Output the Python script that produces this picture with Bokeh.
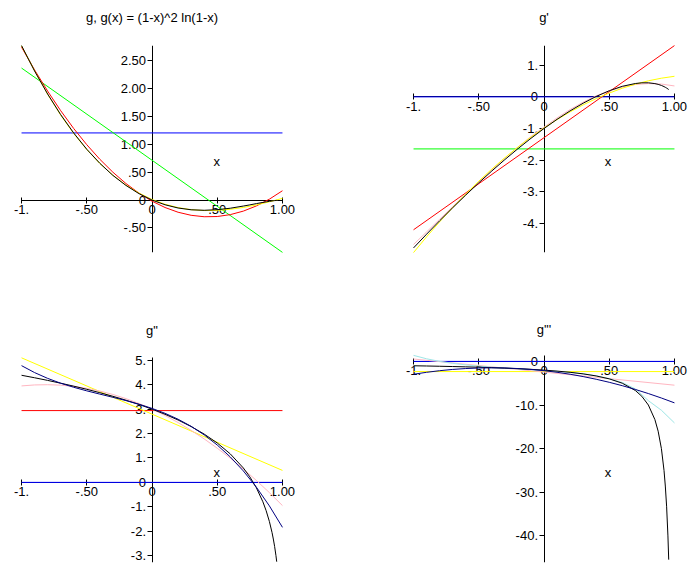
from bokeh.plotting import figure
from bokeh.models import LinearAxis, FixedTicker, Range1d
from bokeh.layouts import gridplot
from bokeh.embed import file_html
from bokeh.resources import INLINE
from bokeh.core.properties import value

FONT = "Liberation Sans"

# ---------------- shared x data ----------------
x_grid = [-1.0, -0.9, -0.8, -0.7, -0.6, -0.5, -0.4, -0.3, -0.2, -0.1, 0.0,
          0.1, 0.2, 0.3, 0.4, 0.5, 0.6, 0.7, 0.8, 0.9, 1.0]
x_black = [-1.0, -0.9, -0.8, -0.7, -0.6, -0.5, -0.4, -0.3, -0.2, -0.1, 0.0,
           0.1, 0.2, 0.3, 0.4, 0.5, 0.6, 0.7, 0.75, 0.8, 0.85, 0.875, 0.9,
           0.92, 0.93, 0.94, 0.95, 0.956]
x_ends = [-1.0, 1.0]

x_ticks = [-1.0, -0.5, 0.0, 0.5, 1.0]
x_tick_labels = ["-1.", "-.50", "0", ".50", "1.00"]

# ---------------- panel 1: g ----------------
g_title = "g, g(x) = (1-x)^2 ln(1-x)"
g_black = [2.773, 2.317, 1.904, 1.534, 1.203, 0.912, 0.660, 0.443, 0.263, 0.115,
           0.0, -0.085, -0.143, -0.175, -0.184, -0.173, -0.147, -0.108, -0.087,
           -0.064, -0.043, -0.033, -0.023, -0.016, -0.013, -0.010, -0.008, -0.006]
g_blue = [1.205, 1.205]
g_green = [2.37, -0.94]
g_red = [2.745, 2.336, 1.956, 1.605, 1.284, 0.994, 0.732, 0.500, 0.297, 0.124,
         -0.020, -0.134, -0.219, -0.274, -0.300, -0.296, -0.262, -0.199, -0.106,
         0.016, 0.167]
g_yellow = [2.77, 2.320, 1.899, 1.525, 1.194, 0.906, 0.657, 0.445, 0.268, 0.124,
            0.010, -0.076, -0.136, -0.173, -0.189, -0.186, -0.166, -0.133, -0.087,
            -0.032, 0.030]
g_yticks = [-0.5, 0.0, 0.5, 1.0, 1.5, 2.0, 2.5]
g_ylabels = ["-.50", "0", ".50", "1.00", "1.50", "2.00", "2.50"]

# ---------------- panel 2: g' ----------------
g1_title = "g'"
g1_black = [-4.773, -4.339, -3.916, -3.504, -3.104, -2.716, -2.342, -1.982, -1.638,
            -1.310, -1.0, -0.710, -0.443, -0.201, 0.013, 0.193, 0.333, 0.422, 0.443,
            0.444, 0.419, 0.395, 0.361, 0.324, 0.302, 0.278, 0.250, 0.231]
g1_blue = [0.0, 0.0]
g1_green = [-1.645, -1.645]
g1_red = [-4.20, 1.62]
g1_yellow = [-4.92, -4.423, -3.949, -3.498, -3.070, -2.665, -2.283, -1.924, -1.588,
             -1.275, -0.985, -0.718, -0.474, -0.253, -0.055, 0.120, 0.272, 0.401,
             0.507, 0.590, 0.650]
g1_pink = [-4.665, -4.268, -3.868, -3.469, -3.073, -2.684, -2.304, -1.937, -1.585,
           -1.252, -0.96, -0.665, -0.40, -0.168, 0.030, 0.190, 0.311, 0.389, 0.420,
           0.404, 0.345]
g1_yticks = [-4.0, -3.0, -2.0, -1.0, 0.0, 1.0]
g1_ylabels = ["-4.", "-3.", "-2.", "-1.", "0", "1."]

# ---------------- panel 3: g'' ----------------
g2_title = 'g"'
g2_black = [4.386, 4.284, 4.176, 4.061, 3.940, 3.811, 3.673, 3.525, 3.365, 3.191,
            3.0, 2.789, 2.554, 2.287, 1.978, 1.614, 1.167, 0.592, 0.227, -0.219,
            -0.794, -1.159, -1.605, -2.051, -2.319, -2.627, -2.991, -3.247]
g2_blue = [0.0, 0.0]
g2_red = [2.94, 2.94]
g2_yellow = [5.1, 0.49]
g2_navy = [4.78, 4.496, 4.259, 4.061, 3.894, 3.748, 3.614, 3.484, 3.349, 3.201,
           3.03, 2.828, 2.586, 2.295, 1.947, 1.530, 1.043, 0.470, -0.196, -0.963,
           -1.84]
g2_pink = [3.95, 3.99, 4.0, 3.98, 3.93, 3.85, 3.74, 3.60, 3.43, 3.23, 3.0, 2.74,
           2.45, 2.13, 1.78, 1.40, 0.99, 0.55, 0.08, -0.42, -0.95]
g2_yticks = [-3.0, -2.0, -1.0, 0.0, 1.0, 2.0, 3.0, 4.0, 5.0]
g2_ylabels = ["-3.", "-2.", "-1.", "0", "1.", "2.", "3.", "4.", "5."]

# ---------------- panel 4: g''' ----------------
g3_title = "g'''"
g3_black = [-1.0, -1.053, -1.111, -1.176, -1.25, -1.333, -1.429, -1.538, -1.667,
            -1.818, -2.0, -2.222, -2.5, -2.857, -3.333, -4.0, -5.0, -6.667, -8.0,
            -10.0, -13.33, -16.0, -20.0, -25.0, -28.57, -33.33, -40.0, -45.45]
g3_blue = [0.0, 0.0]
g3_yellow = [-2.33, -2.33]
g3_pink = [0.55, -5.45]
g3_navy = [-2.95, -2.498, -2.129, -1.841, -1.636, -1.512, -1.471, -1.511, -1.634,
           -1.838, -2.125, -2.494, -2.944, -3.477, -4.091, -4.788, -5.566, -6.427,
           -7.369, -8.394, -9.5]
g3_cyan = [1.38, 0.6, 0.0, -0.45, -0.8, -1.08, -1.32, -1.53, -1.72, -1.9, -2.08,
           -2.28, -2.52, -2.85, -3.3, -3.95, -4.85, -6.3, -9.0, -11.2, -14.1]
g3_yticks = [-40.0, -30.0, -20.0, -10.0, 0.0]
g3_ylabels = ["-40.", "-30.", "-20.", "-10.", "0"]

BLUE = "#0000ff"
GREEN = "#00ff00"
RED = "#ff0000"
YELLOW = "#ffff00"
PINK = "#ffb6c1"
NAVY = "#000080"
CYAN = "#9ee6e6"
TICK_FS = "13px"


def make_panel(title, title_standoff, y_view, y_bounds, w, h, left, right, top, bottom,
               yticks, ylabels, x_lab_pos):
    p = figure(width=w, height=h, x_range=Range1d(-1.1, 1.1),
               y_range=Range1d(*y_view), x_axis_type=None, y_axis_type=None,
               toolbar_location=None, output_backend="svg",
               min_border_left=left, min_border_right=right,
               min_border_top=top, min_border_bottom=bottom)
    p.outline_line_color = None
    p.background_fill_color = "white"
    p.border_fill_color = "white"

    # panel heading, carried by a tick-less axis above the frame
    ta = LinearAxis(ticker=FixedTicker(ticks=[]), axis_label=title)
    ta.axis_line_color = None
    ta.major_tick_line_color = None
    ta.minor_tick_line_color = None
    ta.major_tick_in = 0
    ta.major_tick_out = 0
    ta.minor_tick_in = 0
    ta.minor_tick_out = 0
    ta.major_label_standoff = 0
    ta.axis_label_standoff = title_standoff
    ta.axis_label_text_font = FONT
    ta.axis_label_text_font_size = "13px"
    ta.axis_label_text_font_style = "normal"
    ta.axis_label_text_color = "black"
    p.add_layout(ta, "above")

    xa = LinearAxis(ticker=FixedTicker(ticks=x_ticks), fixed_location=0, bounds=(-1.0, 1.0))
    xa.major_label_overrides = dict(zip(x_ticks, x_tick_labels))
    xa.major_tick_in = 3
    xa.major_tick_out = 3
    xa.minor_tick_line_color = None
    xa.major_label_standoff = 2
    xa.major_label_text_font = FONT
    xa.major_label_text_font_size = TICK_FS
    xa.major_label_text_color = "black"
    xa.axis_line_color = "black"
    p.add_layout(xa, "below")

    ya = LinearAxis(ticker=FixedTicker(ticks=yticks), fixed_location=0, bounds=y_bounds)
    ya.major_label_overrides = dict(zip(yticks, ylabels))
    ya.major_tick_in = 0
    ya.major_tick_out = 5
    ya.minor_tick_line_color = None
    ya.major_label_standoff = 1
    ya.major_label_text_font = FONT
    ya.major_label_text_font_size = TICK_FS
    ya.major_label_text_color = "black"
    p.add_layout(ya, "left")

    p.text(x=[x_lab_pos[0]], y=[x_lab_pos[1]], text=["x"], text_font=value(FONT),
           text_font_size=TICK_FS, text_align="center", text_baseline="middle",
           text_color="black")
    return p


def curve(p, xs, ys, color):
    p.line(xs, ys, line_color=color, line_width=1, level="overlay")


p1 = make_panel(g_title, 21, (-0.942, 2.775), (-0.942, 2.775),
                346, 288, 8, 51, 45, 36, g_yticks, g_ylabels, (0.497, 0.694))
curve(p1, x_ends, g_blue, BLUE)
curve(p1, x_ends, g_green, GREEN)
curve(p1, x_grid, g_red, RED)
curve(p1, x_grid, g_yellow, YELLOW)
curve(p1, x_black, g_black, "black")

p2 = make_panel(g1_title, 21, (-4.918, 1.623), (-4.918, 1.623),
                344, 288, 54, 3, 45, 36, g1_yticks, g1_ylabels, (0.49, -2.04))
curve(p2, x_ends, g1_blue, BLUE)
curve(p2, x_ends, g1_green, GREEN)
curve(p2, x_ends, g1_red, RED)
curve(p2, x_grid, g1_pink, PINK)
curve(p2, x_grid, g1_yellow, YELLOW)
curve(p2, x_black, g1_black, "black")

p3 = make_panel(g2_title, 13, (-3.28, 5.4), (-3.28, 5.1),
                346, 284, 8, 51, 60, 10, g2_yticks, g2_ylabels, (0.497, 0.39))
curve(p3, x_ends, g2_blue, BLUE)
curve(p3, x_ends, g2_red, RED)
curve(p3, x_ends, g2_yellow, YELLOW)
curve(p3, x_grid, g2_pink, PINK)
curve(p3, x_black, g2_black, "black")
curve(p3, x_grid, g2_navy, NAVY)

p4 = make_panel(g3_title, 14, (-46.1, 2.5), (-46.1, 1.38),
                344, 284, 54, 3, 62, 10, g3_yticks, g3_ylabels, (0.49, -25.4))
curve(p4, x_ends, g3_blue, BLUE)
curve(p4, x_ends, g3_yellow, YELLOW)
curve(p4, x_ends, g3_pink, PINK)
curve(p4, x_grid, g3_cyan, CYAN)
curve(p4, x_black, g3_black, "black")
curve(p4, x_grid, g3_navy, NAVY)

grid = gridplot([[p1, p2], [p3, p4]], toolbar_location=None)

with open("out.html", "w") as f:
    f.write(file_html(grid, INLINE))
